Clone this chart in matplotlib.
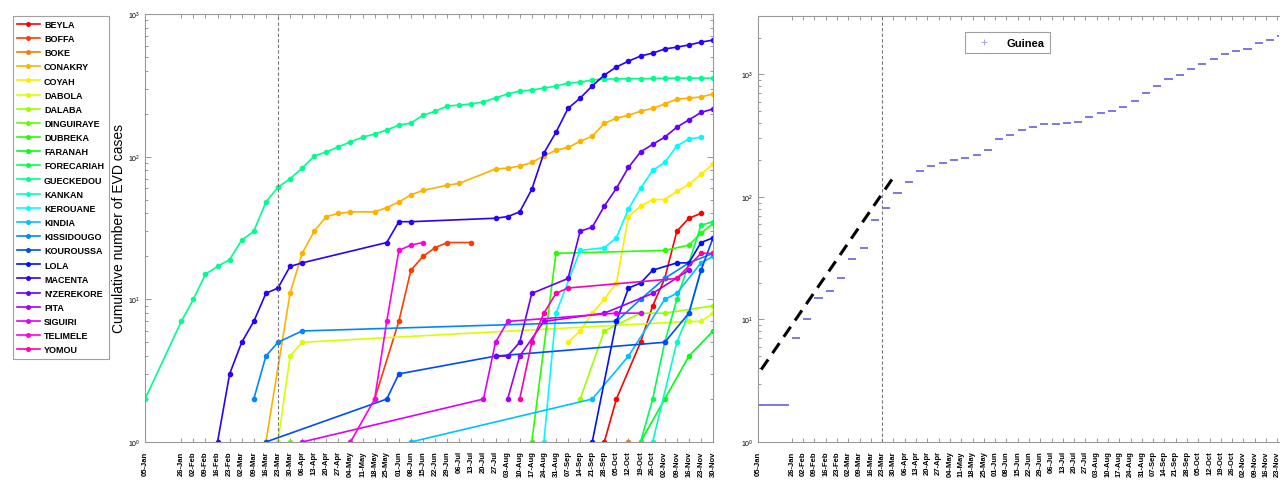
import numpy as np
import pandas as pd
import matplotlib
matplotlib.use("Agg")
import matplotlib.pyplot as plt
from matplotlib.lines import Line2D

plt.rcParams['font.family'] = ['Liberation Sans', 'DejaVu Sans']

# weekly report dates, 2014 (also the tick labels)
report_dates = ["05-Jan", "26-Jan", "02-Feb", "09-Feb", "16-Feb", "23-Feb", "02-Mar", "09-Mar",
                "16-Mar", "23-Mar", "30-Mar", "06-Apr", "13-Apr", "20-Apr", "27-Apr", "04-May",
                "11-May", "18-May", "25-May", "01-Jun", "08-Jun", "15-Jun", "22-Jun", "29-Jun",
                "06-Jul", "13-Jul", "20-Jul", "27-Jul", "03-Aug", "10-Aug", "17-Aug", "24-Aug",
                "31-Aug", "07-Sep", "14-Sep", "21-Sep", "28-Sep", "05-Oct", "12-Oct", "19-Oct",
                "26-Oct", "02-Nov", "09-Nov", "16-Nov", "23-Nov", "30-Nov"]
declaration_date = "23-Mar"
right_panel_end = "24-Nov"   # the right panel runs off the figure edge

# cumulative cases per prefecture
beyla_dates = ["28-Sep", "05-Oct", "19-Oct", "26-Oct", "02-Nov", "09-Nov", "16-Nov", "23-Nov"]
beyla_cases = [1, 2, 5, 9, 14, 30, 37, 40]
boffa_dates = ["18-May", "01-Jun", "08-Jun", "15-Jun", "22-Jun", "29-Jun", "13-Jul"]
boffa_cases = [2, 7, 16, 20, 23, 25, 25]
boke_dates = ["12-Oct"]
boke_cases = [1]
conakry_dates = ["16-Mar", "30-Mar", "06-Apr", "13-Apr", "20-Apr", "27-Apr", "04-May", "18-May",
                 "25-May", "01-Jun", "08-Jun", "15-Jun", "29-Jun", "06-Jul", "27-Jul", "03-Aug",
                 "10-Aug", "17-Aug", "24-Aug", "31-Aug", "07-Sep", "14-Sep", "21-Sep", "28-Sep",
                 "05-Oct", "12-Oct", "19-Oct", "26-Oct", "02-Nov", "09-Nov", "16-Nov", "23-Nov",
                 "30-Nov"]
conakry_cases = [1, 11, 21, 30, 38, 40, 41, 41, 44, 48, 54, 58, 63, 65, 82, 83, 86, 91, 101, 111,
                 116, 128, 139, 171, 186, 195, 208, 218, 234, 253, 257, 262, 275]
coyah_dates = ["07-Sep", "14-Sep", "21-Sep", "28-Sep", "05-Oct", "12-Oct", "19-Oct", "26-Oct",
               "02-Nov", "09-Nov", "16-Nov", "23-Nov", "30-Nov"]
coyah_cases = [5, 6, 8, 10, 13, 38, 45, 50, 50, 57, 64, 75, 89]
dabola_dates = ["23-Mar", "30-Mar", "06-Apr", "16-Nov", "23-Nov", "30-Nov"]
dabola_cases = [1, 4, 5, 7, 7, 8]
dalaba_dates = ["14-Sep", "28-Sep", "19-Oct", "02-Nov", "30-Nov"]
dalaba_cases = [2, 6, 8, 8, 9]
dinguiraye_dates = ["30-Mar"]
dinguiraye_cases = [1]
dubreka_dates = ["17-Aug", "31-Aug", "02-Nov", "16-Nov", "23-Nov", "30-Nov"]
dubreka_cases = [1, 21, 22, 24, 29, 34]
faranah_dates = ["19-Oct", "02-Nov", "16-Nov", "30-Nov"]
faranah_cases = [1, 2, 4, 6]
forecariah_dates = ["19-Oct", "26-Oct", "02-Nov", "09-Nov", "16-Nov", "23-Nov", "30-Nov"]
forecariah_cases = [1, 2, 5, 10, 18, 33, 35]
gueckedou_dates = report_dates
gueckedou_cases = [2, 7, 10, 15, 17, 19, 26, 30, 48, 61, 70, 83, 101, 108, 117, 127, 137, 144,
                   154, 166, 172, 195, 208, 226, 230, 234, 242, 258, 275, 288, 293, 302, 312, 328,
                   333, 344, 350, 350, 352, 352, 353, 354, 355, 355, 355, 355]
kankan_dates = ["26-Oct", "09-Nov", "16-Nov", "23-Nov"]
kankan_cases = [1, 5, 8, 16]
kerouane_dates = ["24-Aug", "31-Aug", "14-Sep", "28-Sep", "05-Oct", "12-Oct", "19-Oct", "26-Oct",
                  "02-Nov", "09-Nov", "16-Nov", "23-Nov"]
kerouane_cases = [1, 8, 22, 23, 27, 43, 60, 80, 91, 119, 133, 137]
kindia_dates = ["08-Jun", "21-Sep", "12-Oct", "02-Nov", "09-Nov", "23-Nov", "30-Nov"]
kindia_cases = [1, 2, 4, 10, 11, 18, 20]
kissidougo_dates = ["09-Mar", "16-Mar", "23-Mar", "06-Apr", "05-Oct", "19-Oct", "02-Nov",
                    "16-Nov", "30-Nov"]
kissidougo_cases = [2, 4, 5, 6, 7, 10, 14, 18, 21]
kouroussa_dates = ["16-Mar", "25-May", "01-Jun", "27-Jul", "02-Nov", "16-Nov", "23-Nov", "30-Nov"]
kouroussa_cases = [1, 2, 3, 4, 5, 8, 16, 27]
lola_dates = ["21-Sep", "05-Oct", "12-Oct", "19-Oct", "26-Oct", "09-Nov", "16-Nov", "23-Nov",
              "30-Nov"]
lola_cases = [1, 7, 12, 13, 16, 18, 18, 25, 27]
macenta_dates = ["16-Feb", "23-Feb", "02-Mar", "09-Mar", "16-Mar", "23-Mar", "30-Mar", "06-Apr",
                 "25-May", "01-Jun", "08-Jun", "27-Jul", "03-Aug", "10-Aug", "17-Aug", "24-Aug",
                 "31-Aug", "07-Sep", "14-Sep", "21-Sep", "28-Sep", "05-Oct", "12-Oct", "19-Oct",
                 "26-Oct", "02-Nov", "09-Nov", "16-Nov", "23-Nov", "30-Nov"]
macenta_cases = [1, 3, 5, 7, 11, 12, 17, 18, 25, 35, 35, 37, 38, 41, 59, 106, 148, 218, 257, 313,
                 373, 425, 467, 507, 532, 568, 586, 606, 635, 656]
nzerekore_dates = ["27-Jul", "03-Aug", "10-Aug", "17-Aug", "07-Sep", "14-Sep", "21-Sep", "28-Sep",
                   "05-Oct", "12-Oct", "19-Oct", "26-Oct", "02-Nov", "09-Nov", "16-Nov", "23-Nov",
                   "30-Nov"]
nzerekore_cases = [4, 4, 5, 11, 14, 30, 32, 45, 60, 84, 108, 122, 137, 161, 181, 204, 216]
pita_dates = ["03-Aug", "10-Aug", "24-Aug", "28-Sep", "26-Oct", "16-Nov"]
pita_cases = [2, 4, 7, 8, 11, 16]
siguiri_dates = ["06-Apr", "20-Jul", "27-Jul", "03-Aug", "05-Oct", "19-Oct"]
siguiri_cases = [1, 2, 5, 7, 8, 8]
telimele_dates = ["04-May", "18-May", "25-May", "01-Jun", "08-Jun", "15-Jun"]
telimele_cases = [1, 2, 7, 22, 24, 25]
yomou_dates = ["10-Aug", "17-Aug", "24-Aug", "31-Aug", "07-Sep", "09-Nov", "23-Nov", "30-Nov"]
yomou_cases = [2, 5, 8, 11, 12, 14, 21, 21]

districts = ["BEYLA", "BOFFA", "BOKE", "CONAKRY", "COYAH", "DABOLA", "DALABA", "DINGUIRAYE",
             "DUBREKA", "FARANAH", "FORECARIAH", "GUECKEDOU", "KANKAN", "KEROUANE", "KINDIA",
             "KISSIDOUGO", "KOUROUSSA", "LOLA", "MACENTA", "N'ZEREKORE", "PITA", "SIGUIRI",
             "TELIMELE", "YOMOU"]
district_dates = [beyla_dates, boffa_dates, boke_dates, conakry_dates, coyah_dates, dabola_dates,
                  dalaba_dates, dinguiraye_dates, dubreka_dates, faranah_dates, forecariah_dates,
                  gueckedou_dates, kankan_dates, kerouane_dates, kindia_dates, kissidougo_dates,
                  kouroussa_dates, lola_dates, macenta_dates, nzerekore_dates, pita_dates,
                  siguiri_dates, telimele_dates, yomou_dates]
district_cases = [beyla_cases, boffa_cases, boke_cases, conakry_cases, coyah_cases, dabola_cases,
                  dalaba_cases, dinguiraye_cases, dubreka_cases, faranah_cases, forecariah_cases,
                  gueckedou_cases, kankan_cases, kerouane_cases, kindia_cases, kissidougo_cases,
                  kouroussa_cases, lola_cases, macenta_cases, nzerekore_cases, pita_cases,
                  siguiri_cases, telimele_cases, yomou_cases]

# whole country, cumulative
guinea_cases = [2, 7, 10, 15, 17, 22, 31, 38, 65, 81, 108, 132, 163, 178, 190, 199, 208, 219, 241,
                297, 320, 351, 371, 391, 391, 400, 407, 447, 482, 500, 541, 612, 711, 800, 911,
                984, 1115, 1220, 1345, 1480, 1540, 1625, 1790, 1900, 2050, 2160]

# early exponential growth fit
fit_start = "07-Jan"
fit_end = "31-Mar"
fit_start_cases = 3.9
fit_rate = 0.0441  # per day


def to_dt(labels):
    return pd.to_datetime([s + "-2014" for s in labels], format="%d-%b-%Y")


ticks = to_dt(report_dates)
decl = to_dt([declaration_date])[0]

fig = plt.figure(figsize=(12.8, 4.89), dpi=100)
ax1 = fig.add_axes([0.1133, 0.0941, 0.4438, 0.8753])
ax2 = fig.add_axes([0.5922, 0.0941, 0.4070, 0.8712])

colors = plt.get_cmap('hsv')(np.linspace(0, 0.9, len(districts)))
for name, d, c, col in zip(districts, district_dates, district_cases, colors):
    ax1.plot(to_dt(d), c, '-o', color=col, lw=1.2, ms=3, label=name)

# right panel: each weekly total drawn as a short level segment
gd = ticks
ends = list(gd[1:] - pd.Timedelta(days=2)) + [gd[-1] + pd.Timedelta(days=5)]
ax2.hlines(guinea_cases, gd, ends, color='#6464dc', lw=1.2)
fd = pd.date_range(to_dt([fit_start])[0], to_dt([fit_end])[0], freq='D')
days = (fd - fd[0]).days.values
ax2.plot(fd, fit_start_cases * np.exp(fit_rate * days), color='black', lw=2.2,
         dashes=(4, 2.5))

for ax, top, end in [(ax1, 1000, ticks[-1]), (ax2, 3000, to_dt([right_panel_end])[0])]:
    ax.set_yscale('log')
    ax.set_ylim(1, top)
    ax.set_xlim(ticks[0], end)
    ax.axvline(decl, color='#777777', lw=0.8, ls=(0, (3, 2)))
    vis = ticks <= end
    ax.set_xticks(ticks[vis])
    ax.set_xticklabels(np.array(report_dates)[vis], rotation=90, fontsize=5.5,
                       fontweight='bold')
    ax.tick_params(axis='x', which='both', top=True, direction='in', length=3, width=0.6,
                   color='#888888', pad=6)
    ax.tick_params(axis='y', which='both', right=True, direction='in', width=0.6,
                   color='#888888', labelsize=5)
    ax.tick_params(axis='y', which='major', length=4)
    ax.tick_params(axis='y', which='minor', length=2)
    for sp in ax.spines.values():
        sp.set_color('#999999')
        sp.set_linewidth(0.8)
ax2.spines['right'].set_visible(False)
ax2.tick_params(axis='y', which='both', right=False)

ax1.set_ylabel('Cumulative number of EVD cases', fontsize=10, labelpad=1)

leg1 = ax1.legend(loc='upper left', bbox_to_anchor=(8 / 1280, 1 - 12 / 489),
                  bbox_transform=fig.transFigure, prop={'weight': 'bold', 'size': 6.5},
                  fancybox=False, edgecolor='#888888', handlelength=2.5, labelspacing=0.57,
                  borderpad=0.5, handletextpad=0.5, markerscale=0.85)
leg1.get_frame().set_linewidth(0.8)

proxy = Line2D([], [], marker='+', ls='none', color='#9a9ae6', ms=4, mew=0.6)
leg2 = ax2.legend([proxy], ['Guinea'], loc='upper left', bbox_to_anchor=(0.386, 0.975),
                  prop={'weight': 'bold', 'size': 8}, fancybox=False, edgecolor='#888888',
                  handlelength=2.5, borderpad=0.5)
leg2.get_frame().set_linewidth(0.8)

fig.savefig('out.png', dpi=100)
